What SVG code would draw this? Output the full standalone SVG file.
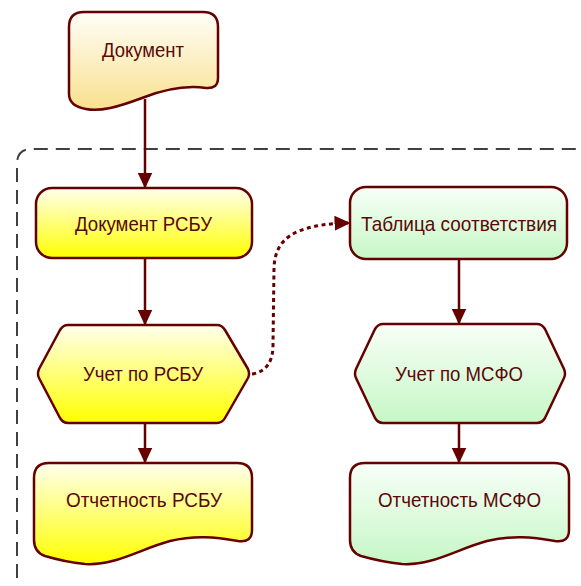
<svg xmlns="http://www.w3.org/2000/svg" width="581" height="586" viewBox="0 0 581 586">
<defs>
<linearGradient id="gDoc" x1="0" y1="0" x2="0" y2="1"><stop offset="0" stop-color="#fffef8"/><stop offset="1" stop-color="#f9e08e"/></linearGradient>
<linearGradient id="gYel" x1="0" y1="0" x2="0" y2="1"><stop offset="0" stop-color="#ffffee"/><stop offset="1" stop-color="#ffff00"/></linearGradient>
<linearGradient id="gGrn" x1="0" y1="0" x2="0" y2="1"><stop offset="0" stop-color="#f8fff8"/><stop offset="1" stop-color="#c6f7c6"/></linearGradient>
<marker id="arr" viewBox="0 0 16 15" refX="15.5" refY="7.5" markerWidth="16" markerHeight="15" markerUnits="userSpaceOnUse" orient="auto">
<path d="M0,0 L16,7.5 L0,15 Z" fill="#660000"/>
</marker>
<style>
.n{stroke:#660000;stroke-width:2.5;stroke-linejoin:round}
.t{font-family:"Liberation Sans",Arial,sans-serif;font-size:21px;fill:#5a0808}
.c{fill:none;stroke:#660000;stroke-width:2.5}
.d{stroke-width:3;stroke-dasharray:4 3.5}
</style>
</defs>
<path d="M17,600 V164 Q17,149 32,149 H600" fill="none" stroke="#404040" stroke-width="2" stroke-dasharray="14 8"/>
<g id="connectors">
<path class="c" d="M145,99 V188" marker-end="url(#arr)"/>
<path class="c" d="M145,258 V325" marker-end="url(#arr)"/>
<path class="c" d="M145,423 V463" marker-end="url(#arr)"/>
<path class="c" d="M459,259 V324" marker-end="url(#arr)"/>
<path class="c" d="M459,423 V463" marker-end="url(#arr)"/>
<path class="c d" d="M252,374 C266,372 273,362 273,345 L274,268 C275,240 292,224 350,223" marker-end="url(#arr)"/>
</g>
<g id="doc">
<path class="n" fill="url(#gDoc)" d="M84,12 H203 Q218,12 218,27 V78 Q218,89 206,88 C185,85 165,89 142,98 C118,107 100,112 86,109 Q69,106 69,94 V27 Q69,12 84,12 Z"/>
<text class="t" x="102" y="57" textLength="82" lengthAdjust="spacingAndGlyphs">Документ</text>
</g>
<g id="docRSBU">
<rect class="n" fill="url(#gYel)" x="36" y="188" width="216" height="70" rx="16"/>
<text class="t" x="75" y="231" textLength="137" lengthAdjust="spacingAndGlyphs">Документ РСБУ</text>
</g>
<g id="table">
<rect class="n" fill="url(#gGrn)" x="350" y="187" width="217" height="72" rx="16"/>
<text class="t" x="361" y="231" textLength="196" lengthAdjust="spacingAndGlyphs">Таблица соответствия</text>
</g>
<g id="uchetRSBU">
<path class="n" fill="url(#gYel)" d="M68,325 H217 Q222,325 225,330 L248,369 Q250,374 248,378 L225,418 Q222,423 217,423 H68 Q63,423 60,418 L39,378 Q37,374 39,369 L60,330 Q63,325 68,325 Z"/>
<text class="t" x="83" y="381" textLength="120" lengthAdjust="spacingAndGlyphs">Учет по РСБУ</text>
</g>
<g id="uchetMSFO">
<path class="n" fill="url(#gGrn)" d="M383,324 H537 Q542,324 545,329 L564,369 Q566,374 564,378 L545,418 Q542,423 537,423 H383 Q378,423 375,418 L356,378 Q354,374 356,369 L375,329 Q378,324 383,324 Z"/>
<text class="t" x="395" y="381" textLength="128" lengthAdjust="spacingAndGlyphs">Учет по МСФО</text>
</g>
<g id="otchRSBU">
<path class="n" fill="url(#gYel)" d="M49,463 H237 Q252,463 252,478 V530 Q252,543 238,541 C215,537 195,535 170,541 C140,549 115,566 85,564 Q65,562 45,556 Q34,552 34,540 V478 Q34,463 49,463 Z"/>
<text class="t" x="66" y="507" textLength="156" lengthAdjust="spacingAndGlyphs">Отчетность РСБУ</text>
</g>
<g id="otchMSFO">
<path class="n" fill="url(#gGrn)" d="M365,463 H554 Q569,463 569,478 V530 Q569,543 555,541 C532,537 512,535 487,541 C457,549 432,566 402,564 Q382,562 361,556 Q350,552 350,540 V478 Q350,463 365,463 Z"/>
<text class="t" x="378" y="507" textLength="163" lengthAdjust="spacingAndGlyphs">Отчетность МСФО</text>
</g>
</svg>
